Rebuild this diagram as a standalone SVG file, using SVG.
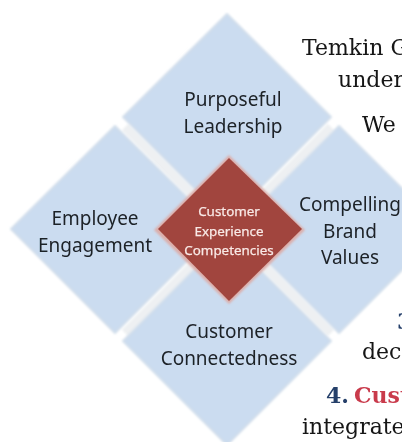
<svg xmlns="http://www.w3.org/2000/svg" width="402" height="442" viewBox="0 0 402 442">
<defs>
<filter id="soft" x="-10%" y="-10%" width="120%" height="120%"><feGaussianBlur stdDeviation="1"/></filter>
<filter id="fine" x="-5%" y="-20%" width="110%" height="140%"><feGaussianBlur stdDeviation="0.35"/></filter>
</defs>
<style>
.pet{fill:#cbdcf0;stroke:#d3dfec;stroke-width:2;stroke-linejoin:round;filter:url(#soft)}
.gap{stroke:#eef0f2;stroke-width:9;fill:none;filter:url(#soft)}
.lbl{font-family:"Noto Sans","Open Sans",sans-serif;font-size:19px;fill:#1c2127;text-anchor:middle;filter:url(#fine)}
.core{font-family:"Noto Sans","Open Sans",sans-serif;font-size:13.4px;fill:#f9e9e6;stroke:#f9e9e6;stroke-width:0.25;text-anchor:middle;filter:url(#fine)}
.body{font-family:"DejaVu Serif","Liberation Serif",serif;font-size:22px;fill:#141414;filter:url(#fine)}
.navy{fill:#25406b;font-weight:700}
.red{fill:#c93a4c;font-weight:700}
</style>
<rect width="402" height="442" fill="#ffffff"/>
<g id="page-text">
<text class="body" x="302" y="55">Temkin G</text>
<text class="body" x="338" y="87">under</text>
<text class="body" x="362" y="132">We</text>
<text class="body navy" x="397" y="329">3</text>
<text class="body" x="362" y="359">dec</text>
<text class="body navy" x="326" y="403">4.</text>
<text class="body red" x="354" y="403">Cust</text>
<text class="body" x="302" y="434">integrate</text>
</g>
<g id="gaps"><path class="gap" d="M125 127L331 333M331 127L125 333"/></g>
<g id="node-top"><path class="pet" d="M227 14L331 117L227 221L123 117Z"/><text class="lbl" x="233" y="106">Purposeful</text><text class="lbl" x="233" y="133">Leadership</text></g>
<g id="node-left"><path class="pet" d="M115 126L219 229L115 333L11 229Z"/><text class="lbl" x="95" y="225">Employee</text><text class="lbl" x="95" y="252">Engagement</text></g>
<g id="node-right"><path class="pet" d="M339 126L443 229L339 333L235 229Z"/><text class="lbl" x="350" y="211">Compelling</text><text class="lbl" x="350" y="238">Brand</text><text class="lbl" x="350" y="264">Values</text></g>
<g id="node-bottom"><path class="pet" d="M227 237L331 341L227 445L123 341Z"/><text class="lbl" x="229" y="338">Customer</text><text class="lbl" x="229" y="365">Connectedness</text></g>
<g id="node-center"><path d="M229 155L305 230L229 304L154 230Z" fill="#dcaeaa" filter="url(#soft)"/><path d="M229 158L302 229L229 301L158 229Z" fill="#a1453e"/><text class="core" x="229" y="216">Customer</text><text class="core" x="229" y="236">Experience</text><text class="core" x="229" y="255">Competencies</text></g>
</svg>
